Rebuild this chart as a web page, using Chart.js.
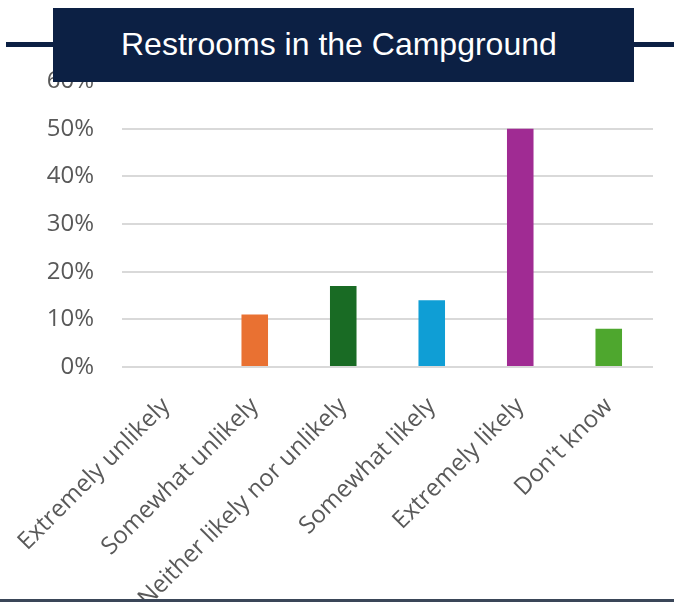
<!DOCTYPE html>
<html>
<head>
<meta charset="utf-8">
<script src="https://cdn.jsdelivr.net/npm/chart.js@4"></script>
<style>
    html, body { margin: 0; padding: 0; background: #fff; overflow: hidden; }
    #wrap { position: relative; width: 674px; height: 602px; }
    #chart { position: absolute; left: 0; top: 0; }
    .bar-line { position: absolute; left: 6px; top: 42px; width: 668px; height: 5px; background: #0c2044; }
    .title-box { position: absolute; left: 53px; top: 8px; width: 581px; height: 74px; background: #0c2044;
        color: #fff; font-family: "Liberation Sans", Arial, sans-serif; font-size: 32px;
        line-height: 72px; text-indent: 68px; white-space: nowrap; }
    .bottom-line { position: absolute; left: 0; top: 599px; width: 674px; height: 3px; background: #3a4658; }
</style>
</head>
<body>
<div id="wrap">
    <canvas id="chart" width="674" height="602"></canvas>
    <div class="bar-line"></div>
    <div class="title-box">Restrooms in the Campground</div>
    <div class="bottom-line"></div>
</div>
<script>
// Chart data
const categories = ['Extremely unlikely', 'Somewhat unlikely', 'Neither likely nor unlikely', 'Somewhat likely', 'Extremely likely', "Don't know"];
const percentValues = [0, 11, 17, 14, 50, 8];
const barColors = ['#156082', '#e97132', '#196b24', '#0f9ed5', '#a02b93', '#4ea72e'];
const yTickMax = 60;
const yTickStep = 10;

const labelColor = '#595959';
const gridColor = '#d9d9d9';

const ctx = document.getElementById('chart').getContext('2d');
const chart = new Chart(ctx, {
    type: 'bar',
    data: {
        labels: categories,
        datasets: [{
            data: percentValues,
            backgroundColor: barColors,
            borderWidth: 0,
            categoryPercentage: 1,
            barPercentage: 0.3
        }]
    },
    options: {
        responsive: false,
        animation: false,
        layout: {
            padding: { top: 81, right: 21, bottom: 0, left: 0 }
        },
        plugins: {
            legend: { display: false },
            tooltip: { enabled: false }
        },
        scales: {
            x: {
                grid: { display: false },
                border: { display: false },
                ticks: {
                    color: labelColor,
                    font: { family: 'Open Sans', size: 24 },
                    minRotation: 45,
                    maxRotation: 45,
                    autoSkip: false,
                    padding: 17
                },
                afterFit: function(scale) {
                    scale.height = 235;
                    scale.paddingLeft = 0;
                    scale.paddingRight = 0;
                }
            },
            y: {
                min: 0,
                max: yTickMax,
                grid: {
                    // top gridline sits under the title box in the original
                    color: function(context) {
                        return context.tick && context.tick.value === yTickMax ? 'rgba(0,0,0,0)' : gridColor;
                    },
                    lineWidth: 2,
                    drawTicks: false
                },
                border: { display: false },
                ticks: {
                    stepSize: yTickStep,
                    color: labelColor,
                    font: { family: 'Open Sans', size: 24 },
                    padding: 28,
                    callback: function(value) {
                        return value + '%';
                    }
                },
                afterFit: function(scale) {
                    scale.width = 122;
                }
            }
        }
    }
});
</script>
</body>
</html>
